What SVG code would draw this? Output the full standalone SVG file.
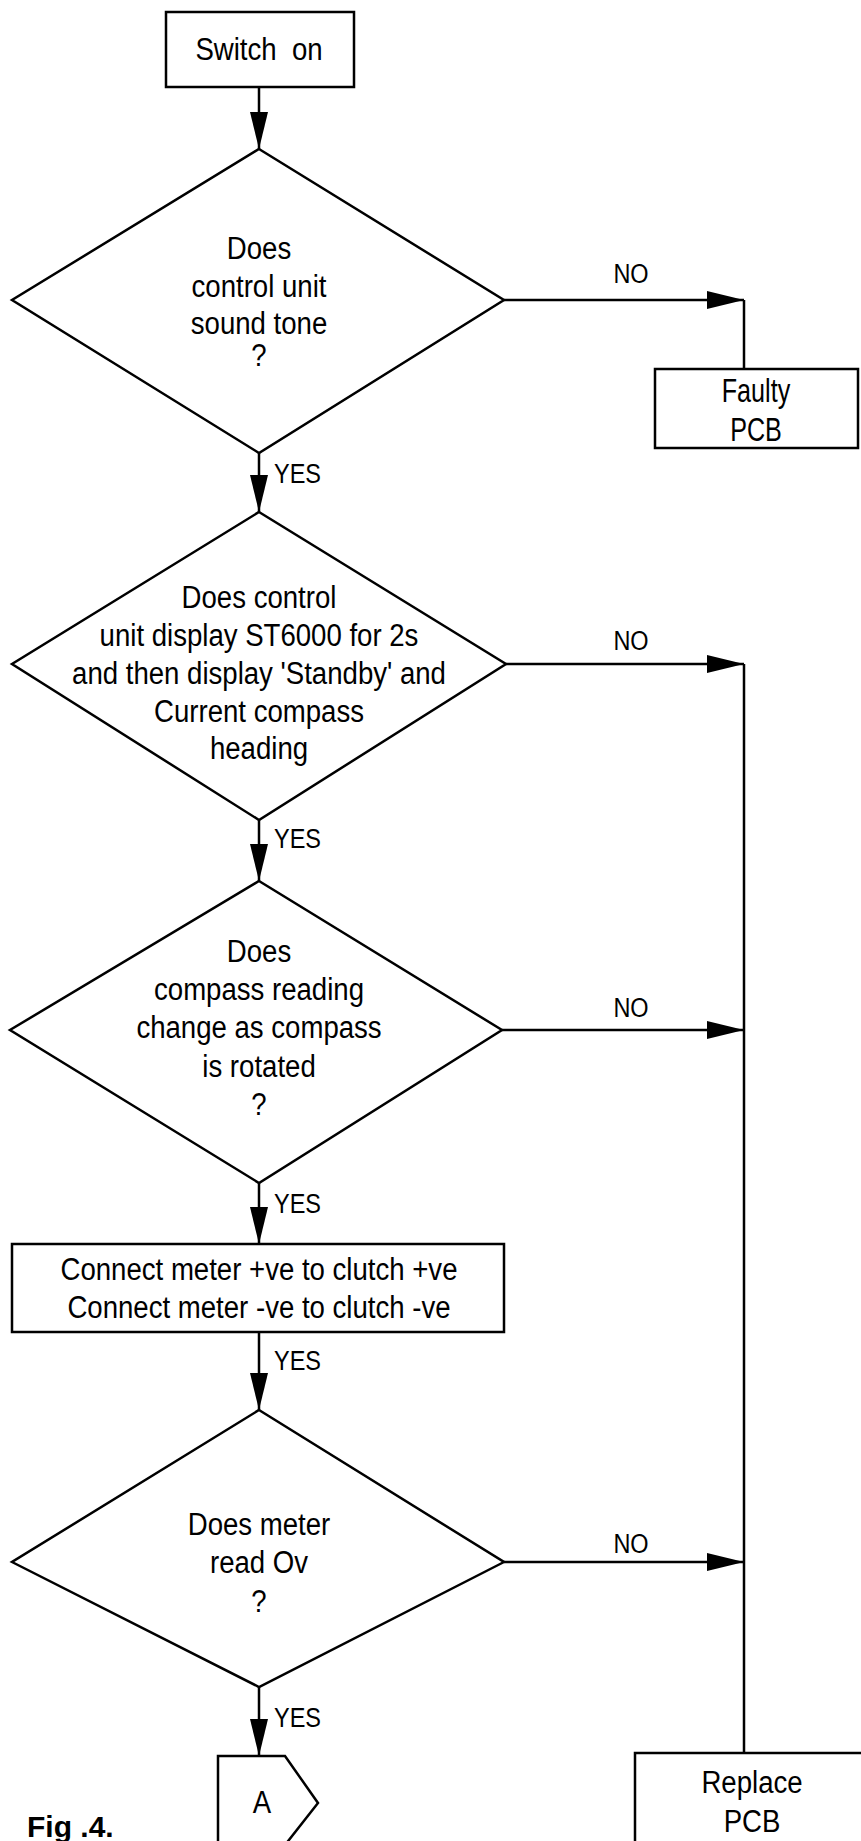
<svg xmlns="http://www.w3.org/2000/svg" width="861" height="1841" viewBox="0 0 861 1841">
<style>
.bg{fill:#fff}
.shape{fill:#fff;stroke:#000;stroke-width:2.5}
.conn{fill:none;stroke:#000;stroke-width:2.5}
.t{font-family:"Liberation Sans",Arial,sans-serif;font-size:31px;fill:#000;text-anchor:middle}
.tb{font-family:"Liberation Sans",Arial,sans-serif;font-size:34px;fill:#000;text-anchor:middle}
.lbl{font-family:"Liberation Sans",Arial,sans-serif;font-size:28px;fill:#000}
.fig{font-family:"Liberation Sans",Arial,sans-serif;font-size:30px;font-weight:bold;fill:#000}
</style>
<defs>
<marker id="arr" markerUnits="userSpaceOnUse" markerWidth="38" markerHeight="18" refX="37" refY="9" orient="auto">
<path d="M0,0 L37,9 L0,18 z" fill="#000"/>
</marker>
</defs>
<rect class="bg" x="0" y="0" width="861" height="1841"/>

<g id="connectors">
<line class="conn" x1="259" y1="87" x2="259" y2="149" marker-end="url(#arr)"/>
<line class="conn" x1="504" y1="300" x2="744" y2="300" marker-end="url(#arr)"/>
<line class="conn" x1="744" y1="300" x2="744" y2="369"/>
<line class="conn" x1="259" y1="453" x2="259" y2="512" marker-end="url(#arr)"/>
<line class="conn" x1="506" y1="664" x2="744" y2="664" marker-end="url(#arr)"/>
<line class="conn" x1="744" y1="664" x2="744" y2="1753"/>
<line class="conn" x1="259" y1="820" x2="259" y2="881" marker-end="url(#arr)"/>
<line class="conn" x1="502" y1="1030" x2="744" y2="1030" marker-end="url(#arr)"/>
<line class="conn" x1="259" y1="1183" x2="259" y2="1244" marker-end="url(#arr)"/>
<line class="conn" x1="259" y1="1332" x2="259" y2="1410" marker-end="url(#arr)"/>
<line class="conn" x1="504" y1="1562" x2="744" y2="1562" marker-end="url(#arr)"/>
<line class="conn" x1="259" y1="1687" x2="259" y2="1756" marker-end="url(#arr)"/>
<text class="lbl" text-anchor="middle" transform="matrix(0.84 0 0 1 631 283)">NO</text>
<text class="lbl" text-anchor="middle" transform="matrix(0.84 0 0 1 631 650)">NO</text>
<text class="lbl" text-anchor="middle" transform="matrix(0.84 0 0 1 631 1017)">NO</text>
<text class="lbl" text-anchor="middle" transform="matrix(0.84 0 0 1 631 1553)">NO</text>
<text class="lbl" transform="matrix(0.84 0 0 1 274 483)">YES</text>
<text class="lbl" transform="matrix(0.84 0 0 1 274 848)">YES</text>
<text class="lbl" transform="matrix(0.84 0 0 1 274 1213)">YES</text>
<text class="lbl" transform="matrix(0.84 0 0 1 274 1370)">YES</text>
<text class="lbl" transform="matrix(0.84 0 0 1 274 1727)">YES</text>
</g>

<g id="switch-on">
<rect class="shape" x="166" y="12" width="188" height="75"/>
<text class="t" transform="matrix(0.89 0 0 1 259 60)" xml:space="preserve">Switch  on</text>
</g>

<g id="tone-decision">
<polygon class="shape" points="259,149 504,300 259,453 12,300"/>
<text class="t" transform="matrix(0.89 0 0 1 259 259)">Does</text>
<text class="t" transform="matrix(0.89 0 0 1 259 297)">control unit</text>
<text class="t" transform="matrix(0.89 0 0 1 259 334)">sound tone</text>
<text class="t" transform="matrix(0.89 0 0 1 259 366)">?</text>
</g>

<g id="faulty-pcb">
<rect class="shape" x="655" y="369" width="203" height="79"/>
<text class="tb" transform="matrix(0.74 0 0 1 756 402)">Faulty</text>
<text class="tb" transform="matrix(0.74 0 0 1 756 441)">PCB</text>
</g>

<g id="display-decision">
<polygon class="shape" points="259,512 506,664 259,820 12,664"/>
<text class="t" transform="matrix(0.89 0 0 1 259 608)">Does control</text>
<text class="t" transform="matrix(0.89 0 0 1 259 646)">unit display ST6000 for 2s</text>
<text class="t" transform="matrix(0.89 0 0 1 259 684)">and then display 'Standby' and</text>
<text class="t" transform="matrix(0.89 0 0 1 259 722)">Current compass</text>
<text class="t" transform="matrix(0.89 0 0 1 259 759)">heading</text>
</g>

<g id="compass-decision">
<polygon class="shape" points="259,881 502,1030 259,1183 10,1030"/>
<text class="t" transform="matrix(0.89 0 0 1 259 962)">Does</text>
<text class="t" transform="matrix(0.89 0 0 1 259 1000)">compass reading</text>
<text class="t" transform="matrix(0.89 0 0 1 259 1038)">change as compass</text>
<text class="t" transform="matrix(0.89 0 0 1 259 1077)">is rotated</text>
<text class="t" transform="matrix(0.89 0 0 1 259 1115)">?</text>
</g>

<g id="connect-meter">
<rect class="shape" x="12" y="1244" width="492" height="88"/>
<text class="t" transform="matrix(0.89 0 0 1 259 1280)">Connect meter +ve to clutch +ve</text>
<text class="t" transform="matrix(0.89 0 0 1 259 1318)">Connect meter -ve to clutch -ve</text>
</g>

<g id="meter-decision">
<polygon class="shape" points="259,1410 504,1562 259,1687 12,1562"/>
<text class="t" transform="matrix(0.89 0 0 1 259 1535)">Does meter</text>
<text class="t" transform="matrix(0.89 0 0 1 259 1573)">read Ov</text>
<text class="t" transform="matrix(0.89 0 0 1 259 1612)">?</text>
</g>

<g id="connector-a">
<polygon class="shape" points="218,1756 285,1756 318,1803 285,1845 218,1845"/>
<text class="t" transform="matrix(0.89 0 0 1 262 1813)">A</text>
</g>

<g id="replace-pcb">
<rect class="shape" x="635" y="1753" width="260" height="120"/>
<text class="t" transform="matrix(0.89 0 0 1 752 1793)">Replace</text>
<text class="t" transform="matrix(0.89 0 0 1 752 1832)">PCB</text>
</g>

<g id="caption">
<text class="fig" x="27" y="1837">Fig .4.</text>
</g>
</svg>
